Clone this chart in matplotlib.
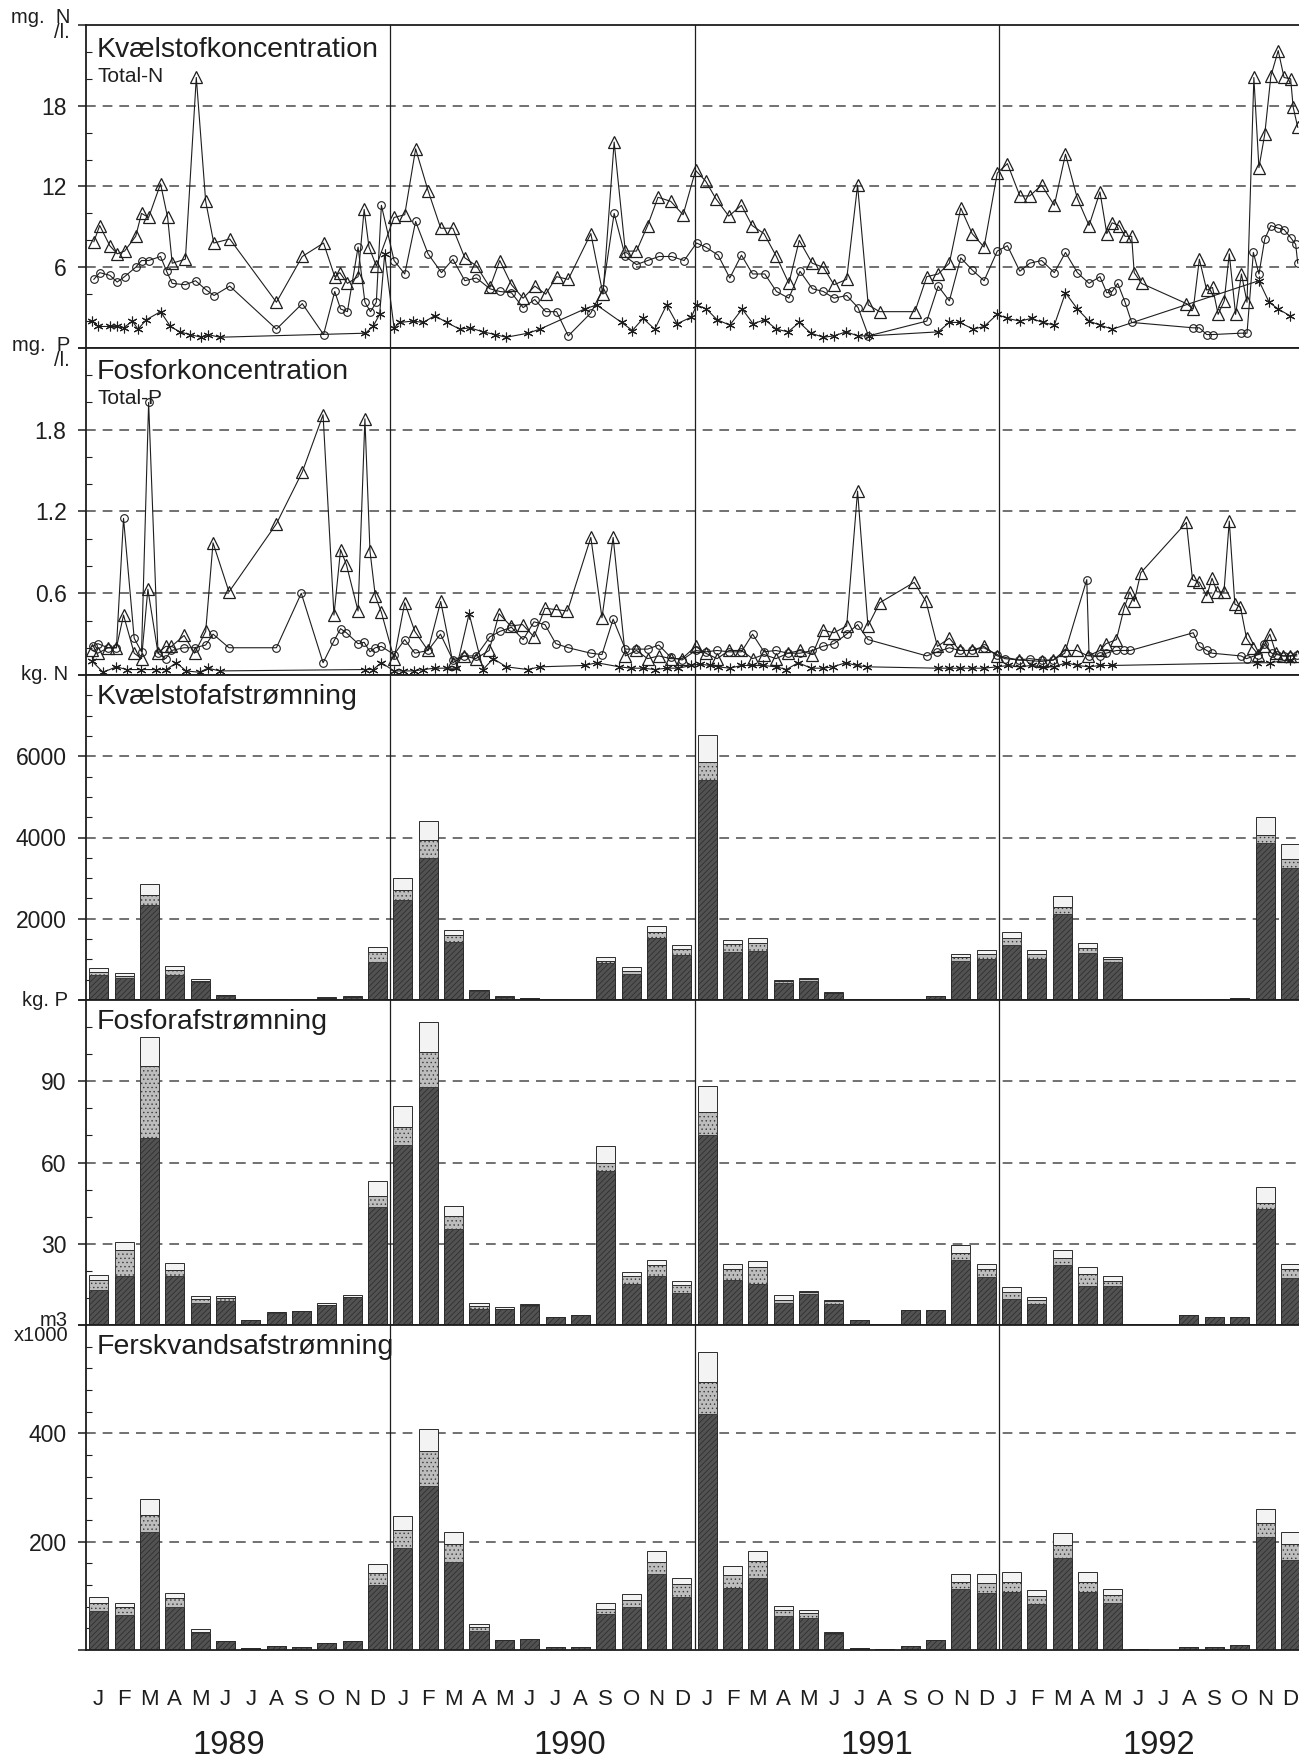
import matplotlib
matplotlib.use('Agg')
import matplotlib.pyplot as plt
import matplotlib.transforms as mtransforms
from matplotlib.ticker import MultipleLocator
import numpy as np

plt.rcParams['font.family'] = ['Liberation Sans', 'DejaVu Sans']
plt.rcParams['hatch.linewidth'] = 0.5
plt.rcParams['lines.scale_dashes'] = False

W, H = 1299, 1761
INK = '#1e1e1e'
XMAX = 47.84

# months are counted from 1 Jan 1989 (0) to the end of 1992 (48)
months = np.arange(48) + 0.5
month_letters = list('JFMAMJJASOND') * 4
years = ['1989', '1990', '1991', '1992']
year_pos = [5.63, 19.08, 31.2, 42.3]

# --- Kvaelstofkoncentration (mg N/l) ---
n_tri_x = [0.31, 0.54, 0.94, 1.23, 1.52, 1.96, 2.19, 2.47, 2.94, 3.22,
           3.40, 3.92, 4.35, 4.72, 5.04, 5.67, 7.51, 8.53, 9.37, 9.81,
           10.01, 10.31, 10.73, 10.97, 11.16, 11.45, 12.15, 12.57, 13.00, 13.49,
           13.99, 14.47, 14.94, 15.40, 15.93, 16.32, 16.78, 17.24, 17.70, 18.13,
           18.56, 19.02, 19.91, 20.39, 20.83, 21.27, 21.71, 22.15, 22.56, 23.06,
           23.55, 24.04, 24.44, 24.84, 25.35, 25.85, 26.27, 26.74, 27.23, 27.72,
           28.13, 28.64, 29.08, 29.50, 30.00, 30.43, 30.85, 31.30, 32.69, 33.16,
           33.61, 34.05, 34.50, 34.95, 35.42, 35.94, 36.34, 36.83, 37.22, 37.69,
           38.19, 38.63, 39.10, 39.56, 39.99, 40.26, 40.47, 40.74, 40.98, 41.24,
           41.34, 41.63, 43.40, 43.67, 43.91, 44.20, 44.43, 44.65, 44.89, 45.09,
           45.34, 45.57, 45.79, 46.06, 46.26, 46.49, 46.73, 47.02, 47.25, 47.51,
           47.61, 47.79]
n_tri_y = [7.9, 9.1, 7.6, 7.0, 7.2, 8.3, 10.0, 9.7, 12.2, 9.7,
           6.3, 6.6, 20.1, 10.9, 7.8, 8.1, 3.4, 6.8, 7.8, 5.3,
           5.6, 4.8, 5.3, 10.3, 7.5, 6.1, 9.7, 9.9, 14.8, 11.7,
           8.9, 8.9, 6.7, 6.1, 4.5, 6.5, 4.7, 3.7, 4.6, 4.0,
           5.3, 5.1, 8.5, 4.0, 15.3, 7.2, 7.2, 9.1, 11.2, 10.9,
           9.9, 13.2, 12.4, 11.1, 9.8, 10.6, 9.1, 8.5, 6.8, 4.8,
           8.0, 6.3, 6.0, 4.7, 5.1, 12.1, 3.2, 2.7, 2.7, 5.3,
           5.5, 6.3, 10.4, 8.5, 7.5, 13.0, 13.7, 11.3, 11.3, 12.1,
           10.6, 14.4, 11.1, 9.1, 11.6, 8.5, 9.3, 9.1, 8.3, 8.3,
           5.6, 4.8, 3.3, 2.9, 6.6, 4.3, 4.5, 2.5, 3.5, 7.0,
           2.5, 5.5, 3.4, 20.1, 13.4, 15.9, 20.2, 22.1, 20.1, 20.0,
           17.9, 16.4]
n_cir_x = [0.31, 0.54, 0.94, 1.23, 1.52, 1.96, 2.19, 2.47, 2.94, 3.18,
           3.40, 3.92, 4.32, 4.75, 5.05, 5.67, 7.51, 8.53, 9.37, 9.81,
           10.04, 10.31, 10.73, 11.00, 11.22, 11.45, 11.65, 12.15, 12.57, 13.00,
           13.49, 14.02, 14.47, 14.94, 15.40, 15.93, 16.32, 16.78, 17.24, 17.70,
           18.13, 18.56, 19.02, 19.91, 20.39, 20.83, 21.27, 21.71, 22.15, 22.60,
           23.10, 23.59, 24.08, 24.44, 24.93, 25.39, 25.85, 26.29, 26.77, 27.23,
           27.72, 28.16, 28.65, 29.08, 29.50, 30.00, 30.45, 30.86, 33.16, 33.61,
           34.05, 34.50, 34.95, 35.42, 35.94, 36.34, 36.83, 37.22, 37.69, 38.19,
           38.63, 39.10, 39.56, 39.99, 40.26, 40.47, 40.69, 40.98, 41.24, 43.67,
           43.91, 44.20, 44.43, 45.55, 45.79, 46.04, 46.26, 46.49, 46.73, 47.02,
           47.25, 47.51, 47.71, 47.79]
n_cir_y = [5.1, 5.6, 5.4, 4.9, 5.3, 6.0, 6.5, 6.5, 6.8, 5.7,
           4.8, 4.7, 5.0, 4.3, 3.9, 4.6, 1.4, 3.3, 1.0, 4.2,
           2.9, 2.7, 7.5, 3.4, 2.7, 3.4, 10.6, 6.5, 5.5, 9.4,
           7.0, 5.6, 6.6, 5.0, 5.2, 4.4, 4.2, 4.1, 3.0, 3.6,
           2.7, 2.7, 0.9, 2.6, 4.4, 10.0, 6.8, 6.2, 6.5, 6.8,
           6.8, 6.5, 7.8, 7.5, 6.9, 5.2, 6.9, 5.5, 5.5, 4.2,
           3.7, 5.7, 4.4, 4.2, 3.7, 3.9, 3.0, 0.9, 2.0, 4.6,
           3.5, 6.7, 5.8, 5.0, 7.2, 7.6, 5.7, 6.3, 6.5, 5.6,
           7.1, 5.6, 4.8, 5.3, 4.1, 4.2, 4.8, 3.4, 1.9, 1.5,
           1.5, 1.0, 1.0, 1.1, 1.1, 7.1, 5.5, 8.1, 9.1, 8.9,
           8.8, 8.2, 7.7, 6.3]
n_star_x = [0.25, 0.47, 0.94, 1.23, 1.48, 1.83, 2.05, 2.38, 2.94, 3.33,
            3.70, 4.09, 4.55, 4.81, 5.27, 11.02, 11.32, 11.58, 11.78, 12.15,
            12.37, 12.90, 13.30, 13.76, 14.22, 14.74, 15.14, 15.66, 16.13, 16.58,
            17.43, 17.90, 19.67, 20.14, 21.12, 21.55, 21.97, 22.43, 22.90, 23.31,
            23.88, 24.08, 24.47, 24.89, 25.39, 25.88, 26.31, 26.77, 27.23, 27.69,
            28.13, 28.59, 29.08, 29.50, 29.97, 30.45, 30.89, 33.61, 34.05, 34.46,
            34.99, 35.42, 35.94, 36.34, 36.83, 37.29, 37.73, 38.19, 38.63, 39.10,
            39.56, 39.99, 40.48, 46.26, 46.66, 47.02, 47.48]
n_star_y = [2.0, 1.6, 1.6, 1.6, 1.5, 2.0, 1.4, 2.1, 2.7, 1.6,
            1.2, 1.0, 0.8, 1.0, 0.8, 1.1, 1.6, 2.5, 7.0, 1.5,
            1.9, 2.0, 1.9, 2.4, 1.9, 1.4, 1.5, 1.2, 1.0, 0.8,
            1.1, 1.4, 2.9, 3.2, 1.9, 1.3, 2.2, 1.4, 3.2, 1.8,
            2.3, 3.2, 2.9, 2.1, 1.7, 2.9, 1.8, 2.1, 1.4, 1.2,
            1.9, 1.1, 0.8, 0.9, 1.2, 0.9, 0.9, 1.2, 1.9, 1.9,
            1.4, 1.6, 2.5, 2.2, 2.0, 2.2, 1.9, 1.7, 4.1, 2.9,
            2.0, 1.7, 1.4, 5.0, 3.4, 2.9, 2.4]

# --- Fosforkoncentration (mg P/l) ---
p_tri_x = [0.25, 0.47, 0.87, 1.20, 1.48, 1.90, 2.19, 2.44, 2.84, 3.14,
           3.37, 3.87, 4.28, 4.72, 5.01, 5.64, 7.51, 8.53, 9.35, 9.78,
           10.04, 10.27, 10.73, 11.00, 11.20, 11.41, 11.65, 12.15, 12.57, 12.97,
           13.49, 13.99, 14.47, 14.91, 15.37, 15.90, 16.29, 16.75, 17.22, 17.67,
           18.10, 18.53, 18.99, 19.91, 20.35, 20.79, 21.27, 21.71, 22.15, 22.59,
           23.06, 23.51, 24.04, 24.44, 24.89, 25.36, 25.85, 26.29, 26.74, 27.21,
           27.69, 28.16, 28.65, 29.05, 29.50, 30.00, 30.43, 30.84, 31.30, 32.66,
           33.13, 33.58, 34.05, 34.46, 34.93, 35.41, 35.94, 36.81, 37.69, 38.15,
           38.60, 39.07, 39.52, 39.99, 40.23, 40.64, 40.94, 41.17, 41.34, 41.60,
           43.40, 43.64, 43.91, 44.20, 44.41, 44.61, 44.88, 45.09, 45.31, 45.53,
           45.77, 46.01, 46.23, 46.45, 46.69, 46.93, 47.20, 47.48, 47.75]
p_tri_y = [0.18, 0.16, 0.20, 0.20, 0.44, 0.16, 0.12, 0.63, 0.16, 0.21,
           0.21, 0.29, 0.16, 0.32, 0.97, 0.61, 1.11, 1.49, 1.91, 0.44,
           0.92, 0.81, 0.47, 1.88, 0.91, 0.58, 0.46, 0.12, 0.53, 0.32,
           0.18, 0.54, 0.09, 0.14, 0.12, 0.18, 0.45, 0.36, 0.37, 0.28,
           0.49, 0.48, 0.47, 1.01, 0.42, 1.01, 0.14, 0.18, 0.12, 0.14,
           0.12, 0.12, 0.21, 0.16, 0.12, 0.18, 0.18, 0.12, 0.15, 0.12,
           0.16, 0.18, 0.15, 0.33, 0.31, 0.36, 1.35, 0.36, 0.53, 0.68,
           0.54, 0.21, 0.27, 0.18, 0.18, 0.21, 0.14, 0.11, 0.10, 0.11,
           0.18, 0.18, 0.14, 0.18, 0.23, 0.26, 0.49, 0.61, 0.54, 0.75,
           1.12, 0.70, 0.68, 0.58, 0.71, 0.61, 0.61, 1.13, 0.52, 0.50,
           0.27, 0.20, 0.15, 0.21, 0.30, 0.16, 0.14, 0.14, 0.14]
p_cir_x = [0.27, 0.47, 0.87, 1.20, 1.48, 1.90, 2.19, 2.47, 2.84, 3.14,
           3.37, 3.87, 4.28, 4.72, 5.01, 5.64, 7.51, 8.49, 9.35, 9.78,
           10.04, 10.27, 10.73, 10.97, 11.20, 11.41, 11.65, 12.15, 12.57, 12.97,
           13.49, 13.98, 14.47, 14.91, 15.39, 15.93, 16.32, 16.78, 17.24, 17.67,
           18.10, 18.53, 19.02, 19.91, 20.35, 20.79, 21.27, 21.71, 22.15, 22.59,
           23.06, 23.51, 24.04, 24.44, 24.89, 25.36, 25.85, 26.29, 26.74, 27.21,
           27.69, 28.16, 28.65, 29.05, 29.50, 30.00, 30.43, 30.84, 33.16, 33.58,
           34.05, 34.46, 34.93, 35.41, 35.94, 36.23, 36.81, 37.22, 37.69, 38.15,
           38.60, 39.47, 39.56, 39.99, 40.23, 40.64, 40.94, 41.19, 43.67, 43.91,
           44.20, 44.41, 45.55, 45.77, 46.23, 46.45, 46.76, 46.96, 47.23, 47.48,
           47.75]
p_cir_y = [0.21, 0.23, 0.20, 0.20, 1.15, 0.27, 0.17, 2.00, 0.16, 0.12,
           0.18, 0.20, 0.20, 0.22, 0.30, 0.20, 0.20, 0.60, 0.09, 0.25,
           0.34, 0.31, 0.23, 0.24, 0.17, 0.20, 0.21, 0.15, 0.26, 0.16,
           0.18, 0.30, 0.11, 0.14, 0.14, 0.28, 0.32, 0.35, 0.26, 0.39,
           0.37, 0.23, 0.20, 0.16, 0.15, 0.41, 0.19, 0.19, 0.19, 0.22,
           0.13, 0.11, 0.18, 0.17, 0.18, 0.17, 0.17, 0.30, 0.17, 0.18,
           0.16, 0.16, 0.18, 0.21, 0.23, 0.30, 0.37, 0.26, 0.14, 0.17,
           0.20, 0.18, 0.18, 0.20, 0.15, 0.12, 0.11, 0.12, 0.11, 0.11,
           0.16, 0.70, 0.14, 0.14, 0.16, 0.18, 0.18, 0.18, 0.31, 0.21,
           0.18, 0.16, 0.14, 0.12, 0.15, 0.23, 0.16, 0.15, 0.14, 0.14,
           0.15]
p_star_x = [0.25, 0.67, 1.20, 1.60, 2.16, 2.77, 3.17, 3.56, 3.95, 4.48,
            4.81, 5.27, 11.02, 11.32, 11.65, 12.15, 12.50, 12.92, 13.31, 13.76,
            14.22, 14.61, 15.11, 15.66, 16.06, 16.58, 17.43, 17.90, 19.67, 20.14,
            21.04, 21.51, 21.97, 22.43, 22.90, 23.36, 23.88, 24.21, 24.60, 24.93,
            25.39, 25.85, 26.25, 26.70, 27.23, 27.62, 28.09, 28.60, 29.06, 29.45,
            29.97, 30.39, 30.82, 33.61, 34.05, 34.46, 34.93, 35.41, 35.94, 36.38,
            36.83, 37.29, 37.73, 38.19, 38.66, 39.10, 39.56, 39.99, 40.47, 46.19,
            46.68, 47.47]
p_star_y = [0.10, 0.02, 0.06, 0.04, 0.04, 0.04, 0.04, 0.09, 0.03, 0.02,
            0.05, 0.03, 0.04, 0.04, 0.09, 0.03, 0.03, 0.03, 0.04, 0.05,
            0.05, 0.05, 0.45, 0.04, 0.12, 0.06, 0.04, 0.06, 0.07, 0.09,
            0.06, 0.05, 0.05, 0.04, 0.05, 0.05, 0.07, 0.08, 0.07, 0.06,
            0.05, 0.07, 0.07, 0.07, 0.06, 0.04, 0.09, 0.05, 0.05, 0.06,
            0.09, 0.07, 0.06, 0.05, 0.05, 0.05, 0.05, 0.05, 0.06, 0.07,
            0.06, 0.07, 0.06, 0.06, 0.09, 0.07, 0.06, 0.07, 0.07, 0.09,
            0.09, 0.11]

# --- monthly loads, three stacked parts per month (dark / grey / light) ---
n_dark = [610, 530, 2330, 620, 450, 110, 20, 15, 20, 60, 85, 940,
          2450, 3490, 1420, 230, 85, 55, 15, 10, 900, 650, 1520, 1100,
          5420, 1180, 1200, 430, 470, 170, 30, 5, 20, 90, 970, 1020,
          1360, 1020, 2110, 1160, 940, 0, 5, 15, 25, 50, 3870, 3260]
n_mid = [80, 50, 250, 120, 30, 5, 0, 0, 0, 0, 0, 240,
         250, 440, 180, 10, 0, 0, 0, 0, 70, 70, 160, 155,
         430, 190, 200, 40, 50, 10, 0, 0, 0, 0, 80, 110,
         160, 110, 190, 130, 60, 0, 0, 0, 0, 0, 200, 220]
n_light = [100, 80, 270, 100, 35, 8, 0, 0, 0, 5, 5, 130,
           300, 470, 130, 10, 5, 5, 0, 0, 80, 90, 130, 110,
           670, 110, 120, 30, 30, 10, 0, 0, 0, 5, 80, 95,
           150, 90, 270, 120, 50, 0, 0, 0, 0, 0, 440, 360]

p_dark = [13, 18.2, 69, 18, 8, 9, 1.8, 4.5, 5, 7.5, 10.5, 43.7,
          66.6, 88, 35.4, 6, 6, 7, 3.1, 3.8, 57, 15, 18, 11.8,
          70, 16.5, 15, 8, 11.5, 7.8, 2.0, 0.3, 5.4, 5.4, 24, 17.7,
          9.5, 7.8, 22, 14.4, 14.4, 0.5, 0, 3.8, 2.8, 2.8, 42.9, 17.2]
p_mid = [3.5, 9.5, 26.8, 2.4, 1.5, 1, 0, 0.2, 0, 0, 0, 3.8,
         6.4, 12.7, 4.7, 1.2, 0, 0.5, 0, 0, 2.9, 3, 4, 3.1,
         8.8, 4.3, 6.6, 1.4, 0.6, 1, 0, 0, 0, 0, 2.5, 3.1,
         2.8, 1.4, 2.8, 4.5, 1.7, 0, 0, 0, 0, 0, 2, 3.6]
p_light = [2, 2.8, 10.7, 2.4, 1.1, 0.8, 0, 0.2, 0.2, 0.6, 0.7, 5.6,
           7.8, 11.3, 3.8, 0.8, 0.6, 0.3, 0, 0, 6.3, 1.6, 1.9, 1.4,
           9.4, 1.6, 1.9, 1.5, 0.4, 0.6, 0, 0, 0, 0, 3, 1.9,
           1.9, 1.0, 2.8, 2.4, 1.9, 0, 0, 0, 0, 0, 5.9, 1.6]

q_dark = [72, 64.6, 217, 80, 32, 16, 3, 7.4, 6.2, 13.5, 16.6, 120,
          189, 303, 162, 36, 17.6, 21, 6, 6, 66, 80, 141, 97.6,
          435, 115, 133, 62, 60, 30, 3, 1, 8, 17.6, 112, 106,
          108, 85, 169, 108, 87, 1, 0, 6, 5, 9.4, 208, 167]
q_mid = [15.4, 15.4, 33, 15.4, 2, 0, 0, 0, 0, 0, 0, 23,
         32.5, 64, 33, 6, 0, 0, 0, 0, 10.5, 12, 21, 23.4,
         59, 24, 31, 12, 8, 2, 0, 0, 0, 0, 14, 17.5,
         18, 14, 24, 18, 15, 0, 0, 0, 0, 0, 26, 29.5]
q_light = [11, 7.4, 28, 9.2, 4.8, 0.6, 0, 0, 0, 0, 0, 15,
           25.5, 41, 22.6, 6, 0, 0, 0, 0, 9.5, 11.5, 20, 12,
           56, 16, 18, 8, 6, 1, 0, 0, 0, 0, 14, 16.5,
           17.5, 11.6, 23.5, 17.5, 10, 0, 0, 0, 0, 0, 27, 21.5]


def add_panel(fig, top, bottom):
    # top / bottom in pixels from the top of the picture
    return fig.add_axes([86 / W, 1 - bottom / H, 1 - 86 / W, (bottom - top) / H])


def style_panel(ax, ymax, major, labels, minor):
    ax.set_xlim(0, XMAX)
    ax.set_ylim(0, ymax)
    ax.set_yticks([0] + major + [ymax])
    ax.set_yticklabels([''] + labels + [''], fontsize=16.5)
    ax.yaxis.set_minor_locator(MultipleLocator(minor))
    ax.tick_params(axis='y', which='major', direction='out', length=6, width=1.1,
                   pad=8, colors=INK)
    ax.tick_params(axis='y', which='minor', direction='in', length=4, width=0.8,
                   colors=INK)
    ax.set_xticks([])
    ax.spines['right'].set_visible(False)
    for s in ['left', 'top', 'bottom']:
        ax.spines[s].set_linewidth(1.3)
        ax.spines[s].set_color(INK)
    for v in major:
        ax.axhline(v, color='#4a4a4a', lw=1.1, dashes=(7, 5), zorder=0)
    for yr in (12, 24, 36):
        ax.axvline(yr, color=INK, lw=0.9, zorder=1)


def draw_lines(ax, tri, cir, star):
    ax.plot(tri[0], tri[1], color=INK, lw=0.8, marker='^', ms=8, mfc='none',
            mec=INK, mew=0.9, zorder=3)
    ax.plot(cir[0], cir[1], color=INK, lw=0.8, marker='o', ms=5.5, mfc='none',
            mec=INK, mew=0.8, zorder=3)
    ax.plot(star[0], star[1], color=INK, lw=0.8, marker=(6, 2, 0), ms=7,
            mec=INK, mew=0.8, zorder=3)


def draw_bars(ax, dark, mid, light):
    d = np.array(dark, dtype=float)
    m = np.array(mid, dtype=float)
    l = np.array(light, dtype=float)
    ax.bar(months, d, width=0.75, color='#525252', edgecolor='#2a2a2a',
           hatch='//////', lw=0.7, zorder=2)
    ax.bar(months, m, bottom=d, width=0.75, color='#bdbdbd', edgecolor='#3a3a3a',
           hatch='....', lw=0.7, zorder=2)
    ax.bar(months, l, bottom=d + m, width=0.75, color='#f3f3f3', edgecolor='#2c2c2c',
           lw=0.7, zorder=2)


fig = plt.figure(figsize=(W / 100, H / 100), dpi=100)

bounds = [(25, 348), (348, 675), (675, 1000), (1000, 1325), (1325, 1650)]
axes = [add_panel(fig, t, b) for t, b in bounds]

style_panel(axes[0], 24, [6, 12, 18], ['6', '12', '18'], 2)
draw_lines(axes[0], (n_tri_x, n_tri_y), (n_cir_x, n_cir_y), (n_star_x, n_star_y))

style_panel(axes[1], 2.4, [0.6, 1.2, 1.8], ['0.6', '1.2', '1.8'], 0.2)
draw_lines(axes[1], (p_tri_x, p_tri_y), (p_cir_x, p_cir_y), (p_star_x, p_star_y))

style_panel(axes[2], 8000, [2000, 4000, 6000], ['2000', '4000', '6000'], 500)
draw_bars(axes[2], n_dark, n_mid, n_light)

style_panel(axes[3], 120, [30, 60, 90], ['30', '60', '90'], 10)
draw_bars(axes[3], p_dark, p_mid, p_light)

style_panel(axes[4], 600, [200, 400], ['200', '400'], 40)
draw_bars(axes[4], q_dark, q_mid, q_light)


def ftext(x, y, s, **kw):
    fig.text(x / W, 1 - y / H, s, color=INK, **kw)


# panel titles
ftext(97, 50, 'Kvælstofkoncentration', fontsize=20.5, va='center')
ftext(97, 76, 'Total-N', fontsize=15, va='center')
ftext(97, 372, 'Fosforkoncentration', fontsize=20.5, va='center')
ftext(97, 398, 'Total-P', fontsize=15, va='center')
ftext(97, 697, 'Kvælstofafstrømning', fontsize=20.5, va='center')
ftext(97, 1022, 'Fosforafstrømning', fontsize=20.5, va='center')
ftext(97, 1347, 'Ferskvandsafstrømning', fontsize=20.5, va='center')

# unit labels at the upper left corner of each panel
unit_kw = dict(fontsize=14.5, ha='right', va='center', multialignment='right',
               linespacing=0.75)
ftext(70, 25, 'mg.  N\n/l.', **unit_kw)
ftext(70, 353, 'mg.  P\n/l.', **unit_kw)
ftext(68, 675, 'kg. N', **unit_kw)
ftext(68, 1001, 'kg. P', **unit_kw)
ftext(68, 1328, 'm3\nx1000', **unit_kw)

# month letters and years under the last panel
ax = axes[4]
ax.set_xticks(months)
ax.set_xticklabels(month_letters, fontsize=16, color=INK)
ax.tick_params(axis='x', length=0, pad=28)
trans = mtransforms.blended_transform_factory(ax.transData, fig.transFigure)
for yr, xp in zip(years, year_pos):
    ax.text(xp, 1 - 1745 / H, yr, transform=trans, ha='center', va='center',
            fontsize=23.5, color=INK)

fig.savefig('out.png', dpi=100)
print("plot saved to: out.png")
